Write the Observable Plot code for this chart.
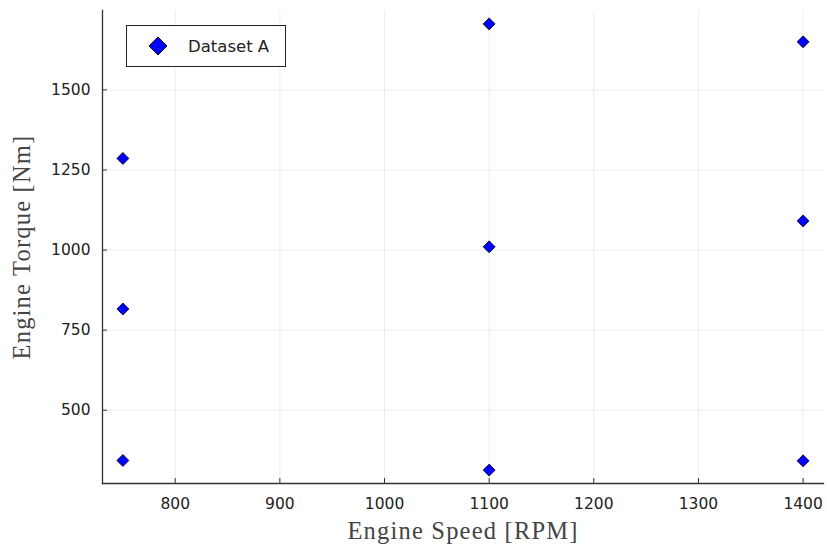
<!DOCTYPE html>
<html>
<head>
<meta charset="utf-8">
<script src="https://cdn.jsdelivr.net/npm/d3@7"></script>
<script src="https://cdn.jsdelivr.net/npm/@observablehq/plot@0.6"></script>
<style>
  html, body { margin: 0; padding: 0; background: #fff; }
  #wrap { position: relative; width: 827px; height: 550px; }
  #legend {
    position: absolute; left: 126px; top: 25px; width: 158px; height: 40px;
    border: 1px solid #222; background: #fff;
    font-family: "DejaVu Sans", sans-serif; font-size: 16.5px; color: #222;
    display: flex; align-items: center;
  }
  #legend svg { margin-left: 21px; margin-right: 20px; }
  .axlabel { letter-spacing: 1.2px; }
</style>
</head>
<body>
<div id="wrap"></div>
<script>
const seriesName = "Dataset A";
const engineSpeed = [750, 750, 750, 1100, 1100, 1100, 1400, 1400, 1400];
const engineTorque = [1286, 816, 343, 1706, 1010, 313, 1650, 1091, 342];
const xTicks = [800, 900, 1000, 1100, 1200, 1300, 1400];
const yTicks = [500, 750, 1000, 1250, 1500];
const xLabel = "Engine Speed [RPM]";
const yLabel = "Engine Torque [Nm]";

const data = engineSpeed.map((x, i) => ({x, y: engineTorque[i]}));

const pad = (arr) => {
  const [a, b] = d3.extent(arr);
  const m = (b - a) * 0.03;
  return [a - m, b + m];
};

const chart = Plot.plot({
  width: 827,
  height: 550,
  marginLeft: 102,
  marginRight: 4,
  marginTop: 10,
  marginBottom: 67,
  style: {fontFamily: "'DejaVu Sans', sans-serif", fontSize: "15.5px", color: "#222", background: "#fff"},
  x: {domain: pad(engineSpeed)},
  y: {domain: pad(engineTorque)},
  marks: [
    Plot.gridX(xTicks, {stroke: "#000", strokeOpacity: 0.07, strokeWidth: 1}),
    Plot.gridY(yTicks, {stroke: "#000", strokeOpacity: 0.07, strokeWidth: 1}),
    Plot.frame({anchor: "left", stroke: "#333", strokeWidth: 1.3}),
    Plot.frame({anchor: "bottom", stroke: "#333", strokeWidth: 1.3}),
    Plot.axisX(xTicks, {tickSize: -5, tickPadding: 19, stroke: "#333", label: null, fontSize: 15.5, fill: "#222", tickFormat: d => String(d)}),
    Plot.axisY(yTicks, {tickSize: -5, tickPadding: 17, stroke: "#333", label: null, fontSize: 15.5, fill: "#222", tickFormat: d => String(d)}),
    Plot.text([xLabel], {frameAnchor: "bottom", dy: 55, fontFamily: "'Liberation Serif', serif", fontSize: 24.5, fill: "#444", lineAnchor: "bottom", textAnchor: "middle", className: "axlabel"}),
    Plot.text([yLabel], {frameAnchor: "left", dx: -72.5, rotate: -90, fontFamily: "'Liberation Serif', serif", fontSize: 24.5, fill: "#444", lineAnchor: "bottom", textAnchor: "middle", className: "axlabel"}),
    Plot.dot(data, {x: "x", y: "y", symbol: "diamond2", r: 5.4, fill: "#0000ff", stroke: "#000", strokeWidth: 0.8})
  ]
});

const wrap = document.getElementById("wrap");
wrap.appendChild(chart);

const legend = document.createElement("div");
legend.id = "legend";
legend.innerHTML = `<svg width="20" height="20" viewBox="-10 -10 20 20"><path d="M0,-9L9,0L0,9L-9,0Z" fill="#0000ff" stroke="#000" stroke-width="1"/></svg><span>${seriesName}</span>`;
wrap.appendChild(legend);
</script>
</body>
</html>
